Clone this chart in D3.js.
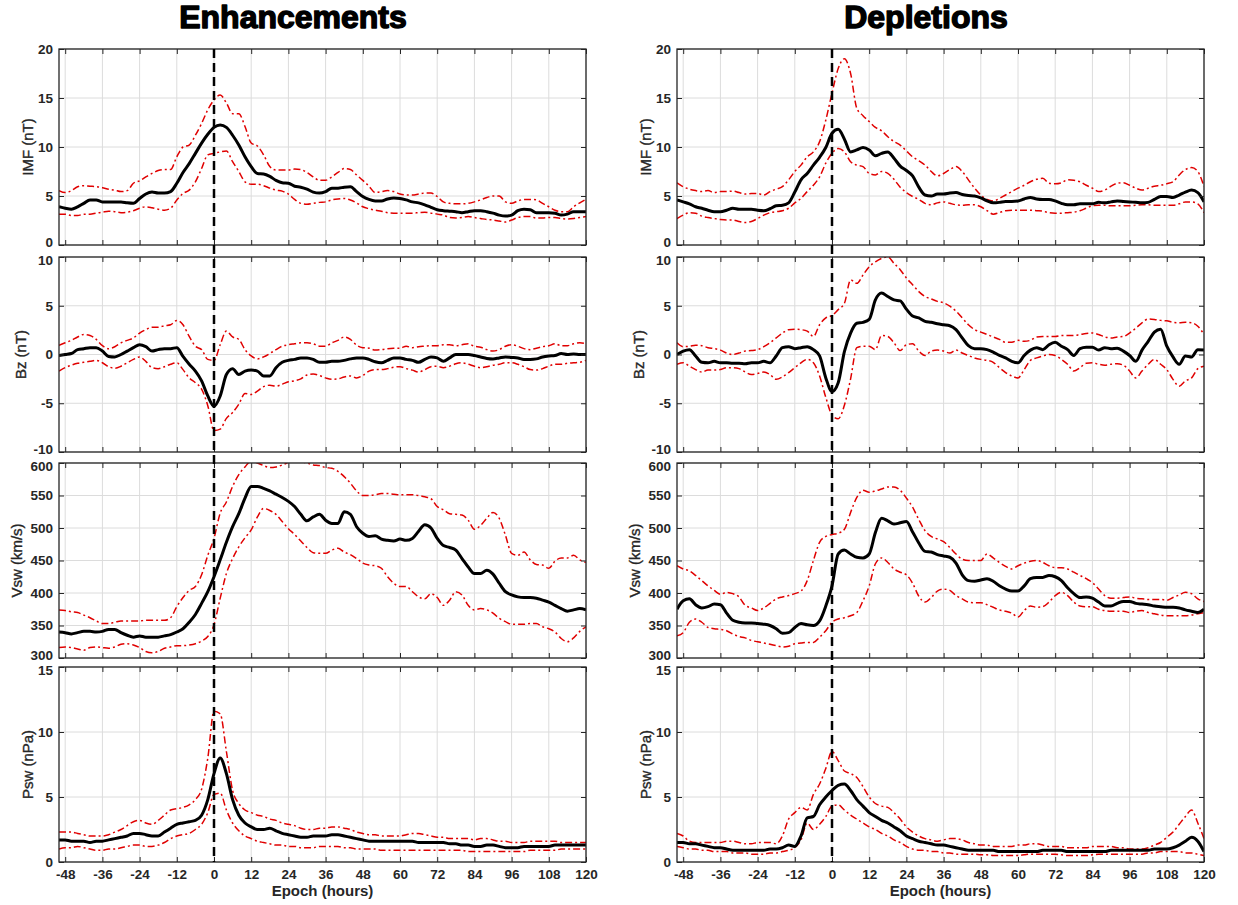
<!DOCTYPE html>
<html>
<head>
<meta charset="utf-8">
<script src="https://cdn.jsdelivr.net/npm/d3@7"></script>
<style>
  body { margin: 0; background: #fff; }
  text { font-family: "Liberation Sans", Arial, sans-serif; }
</style>
</head>
<body>
<svg id="chart" width="1238" height="905"></svg>
<script>
// Epoch hours, every 2 h from -50 to 120
const hours = [
  -50,-48,-46,-44,-42,-40,-38,-36,-34,-32,
  -30,-28,-26,-24,-22,-20,-18,-16,-14,-12,
  -10,-8,-6,-4,-2,0,2,4,6,8,
  10,12,14,16,18,20,22,24,26,28,
  30,32,34,36,38,40,42,44,46,48,
  50,52,54,56,58,60,62,64,66,68,
  70,72,74,76,78,80,82,84,86,88,
  90,92,94,96,98,100,102,104,106,108,
  110,112,114,116,118,120
];

const xTicks = [-48, -36, -24, -12, 0, 12, 24, 36, 48, 60, 72, 84, 96, 108, 120];
const imfTicks = [0, 5, 10, 15, 20];
const bzTicks = [-10, -5, 0, 5, 10];
const vswTicks = [300, 350, 400, 450, 500, 550, 600];
const pswTicks = [0, 5, 10, 15];

// ---- Enhancements ----
const enhImfMean = [
  3.9,3.75,3.65,3.9,4.25,4.6,4.6,4.4,4.4,4.4,
  4.4,4.3,4.25,4.75,5.2,5.4,5.3,5.3,5.45,6.3,
  7.4,8.3,9.35,10.4,11.3,12.0,12.25,12.0,11.2,10.2,
  9.0,8.0,7.3,7.25,7.0,6.6,6.35,6.3,6.0,5.9,
  5.7,5.4,5.3,5.45,5.8,5.8,5.9,5.95,5.45,4.95,
  4.65,4.5,4.5,4.7,4.8,4.75,4.6,4.4,4.3,4.1,
  3.85,3.6,3.5,3.45,3.4,3.3,3.4,3.5,3.5,3.4,
  3.25,3.05,2.95,3.05,3.5,3.65,3.6,3.3,3.3,3.3,
  3.25,3.05,3.15,3.4,3.4,3.4
];
const enhImfUpper = [
  5.55,5.35,5.55,5.95,6.05,6.0,5.95,5.85,5.7,5.6,
  5.45,5.55,6.3,6.55,6.95,7.3,7.6,7.7,7.7,9.0,
  10.0,10.2,11.2,12.4,13.8,14.8,15.3,14.5,13.4,13.4,
  12.1,10.4,10.1,9.2,8.0,7.65,7.65,7.65,7.75,7.7,
  7.4,6.95,6.6,6.6,6.95,7.4,7.8,7.7,7.15,6.6,
  6.0,5.35,5.45,5.55,5.45,5.2,5.1,5.1,5.2,5.3,
  5.3,4.95,4.4,4.25,4.2,4.2,4.25,4.4,4.6,4.85,
  5.0,5.0,4.4,4.25,4.5,4.65,4.65,4.6,4.25,3.9,
  3.55,3.4,3.4,3.9,4.3,4.65
];
const enhImfLower = [
  3.15,3.15,3.0,3.0,3.15,3.15,3.25,3.35,3.45,3.4,
  3.3,3.35,3.5,3.75,3.9,3.8,3.65,3.55,3.75,4.6,
  5.25,5.6,6.45,7.8,9.2,9.35,9.5,9.6,8.5,7.5,
  6.45,6.2,6.2,6.05,5.8,5.6,5.5,5.2,4.65,4.25,
  4.15,4.25,4.35,4.4,4.6,4.7,4.75,4.6,4.3,3.9,
  3.7,3.55,3.45,3.3,3.25,3.25,3.25,3.25,3.3,3.35,
  3.25,3.15,3.05,2.8,2.75,2.8,2.9,2.8,2.7,2.6,
  2.55,2.45,2.35,2.55,2.8,2.9,2.9,2.75,2.75,2.8,
  2.8,2.7,2.65,2.7,2.8,2.9
];
const enhBzMean = [
  -0.1,0,0.1,0.5,0.6,0.7,0.7,0.35,-0.2,-0.25,
  0,0.35,0.7,1.0,0.8,0.35,0.5,0.6,0.6,0.7,
  -0.2,-1.0,-1.7,-2.7,-4.25,-5.3,-4.25,-2.05,-1.45,-2.05,
  -1.7,-1.6,-1.7,-2.2,-2.2,-1.35,-0.8,-0.6,-0.5,-0.35,
  -0.35,-0.5,-0.8,-0.8,-0.7,-0.7,-0.6,-0.45,-0.35,-0.35,
  -0.5,-0.75,-0.85,-0.6,-0.35,-0.35,-0.5,-0.6,-0.8,-0.5,
  -0.25,-0.35,-0.7,-0.35,0,0,0,-0.1,-0.25,-0.4,
  -0.45,-0.35,-0.25,-0.3,-0.35,-0.5,-0.5,-0.45,-0.25,-0.15,
  -0.1,0.1,0,0.05,0,0
];
const enhBzUpper = [
  0.95,1.2,1.45,1.8,2.05,1.95,1.55,0.9,0.6,0.8,
  1.2,1.45,1.7,2.2,2.55,2.8,2.8,2.95,3.05,3.5,
  3.05,1.85,0.85,0.5,-0.5,-0.6,1.0,2.4,1.8,1.55,
  0.5,-0.15,-0.45,-0.25,0.1,0.5,0.85,1.0,1.1,1.2,
  1.2,1.1,0.85,0.85,1.2,1.45,1.8,1.55,0.95,0.7,
  0.65,0.45,0.5,0.6,0.65,0.65,0.85,0.7,0.8,0.85,
  0.9,0.9,1.0,1.0,0.9,1.0,1.1,0.85,0.75,0.5,
  0.35,0.5,0.85,1.0,0.85,0.6,0.5,0.65,0.8,0.9,
  1.1,0.9,0.9,1.1,1.2,1.1
];
const enhBzLower = [
  -1.7,-1.35,-1.1,-0.9,-0.8,-0.7,-0.6,-0.85,-1.25,-1.4,
  -1.2,-0.85,-0.5,-0.25,-0.7,-1.35,-1.45,-1.25,-1.0,-0.85,
  -1.55,-2.4,-2.9,-3.55,-5.25,-7.8,-7.65,-6.55,-5.95,-5.1,
  -4.0,-4.1,-3.75,-3.3,-3.15,-3.25,-3.05,-2.8,-2.7,-2.5,
  -2.1,-2.0,-2.15,-2.4,-2.55,-2.5,-2.3,-2.2,-2.4,-2.15,
  -1.7,-1.55,-1.55,-1.45,-1.3,-1.25,-1.45,-1.6,-1.8,-1.55,
  -1.25,-1.2,-1.35,-1.2,-0.95,-0.85,-1.0,-1.2,-1.35,-1.25,
  -1.1,-1.0,-0.85,-0.85,-1.0,-1.25,-1.55,-1.6,-1.45,-1.2,
  -1.0,-1.0,-0.9,-0.85,-0.8,-0.6
];
const enhVswMean = [
  340,339,337,339,341,341,340,341,344,344,
  339,335,332,334,332,332,332,334,336,340,
  345,355,367,384,402,425,451,478,502,522,
  546,564,564,561,557,552,547,541,533,521,
  511,517,521,512,507,507,525,521,502,492,
  487,488,483,481,480,483,481,484,495,505,
  500,484,473,470,466,453,440,430,430,435,
  429,415,402,397,394,393,393,392,389,386,
  381,376,372,374,376,374
];
const enhVswUpper = [
  374,373,371,370,366,362,357,353,353,355,
  357,357,357,357,358,358,358,358,362,379,
  393,404,410,428,458,484,523,540,564,582,
  594,603,600,596,593,594,597,601,605,602,
  600,597,596,593,592,587,579,569,557,550,
  550,551,553,553,552,551,551,551,550,548,
  545,533,528,522,521,520,512,498,504,515,
  524,515,489,461,458,463,451,444,443,438,
  449,454,454,458,451,447
];
const enhVswLower = [
  316,317,316,314,312,316,317,316,315,317,
  321,322,320,316,310,308,310,315,317,319,
  319,320,322,326,333,351,392,430,453,471,
  485,497,517,530,527,521,510,499,490,480,
  470,462,461,461,466,469,463,459,453,446,
  443,442,438,425,415,410,410,402,394,391,
  399,393,381,389,402,397,381,374,376,374,
  369,361,356,352,352,352,353,353,348,345,
  340,330,325,331,341,348
];
const enhPswMean = [
  1.7,1.7,1.6,1.6,1.6,1.5,1.6,1.6,1.7,1.8,
  1.9,2.0,2.2,2.2,2.1,2.0,2.0,2.3,2.6,2.9,
  3.0,3.1,3.2,3.6,4.8,6.8,8.0,6.8,4.8,3.6,
  3.0,2.7,2.5,2.5,2.6,2.4,2.2,2.1,2.0,1.9,
  1.9,2.0,2.0,2.0,2.1,2.1,2.0,1.9,1.8,1.7,
  1.6,1.6,1.6,1.6,1.6,1.6,1.6,1.6,1.5,1.5,
  1.5,1.5,1.5,1.4,1.4,1.3,1.3,1.2,1.2,1.3,
  1.3,1.2,1.1,1.1,1.1,1.2,1.2,1.2,1.2,1.2,
  1.3,1.3,1.3,1.3,1.3,1.3
];
const enhPswUpper = [
  2.3,2.3,2.3,2.2,2.1,2.0,2.0,2.0,2.1,2.3,
  2.5,2.8,3.1,3.2,3.0,2.9,3.2,3.6,4.0,4.1,
  4.2,4.4,4.8,5.6,8.0,11.6,11.4,8.5,5.5,4.5,
  4.0,3.8,3.6,3.5,3.3,3.2,3.0,2.9,2.8,2.6,
  2.5,2.5,2.6,2.6,2.7,2.7,2.6,2.5,2.3,2.2,
  2.1,2.1,2.0,2.0,2.0,2.0,2.1,2.2,2.2,2.1,
  2.0,1.9,1.9,1.8,1.8,1.8,1.8,1.7,1.8,1.8,
  1.7,1.6,1.6,1.5,1.5,1.5,1.6,1.6,1.6,1.6,
  1.6,1.5,1.5,1.5,1.5,1.5
];
const enhPswLower = [
  1.0,1.1,1.1,1.2,1.1,1.0,0.9,0.9,1.0,1.0,
  1.1,1.2,1.3,1.3,1.2,1.2,1.3,1.5,1.8,2.0,
  2.1,2.2,2.5,2.9,3.8,5.2,5.3,4.0,3.0,2.4,
  2.0,1.8,1.6,1.5,1.4,1.3,1.3,1.2,1.2,1.1,
  1.1,1.1,1.2,1.2,1.2,1.2,1.1,1.1,1.0,1.0,
  1.0,1.0,0.9,0.9,0.9,0.9,0.9,0.9,0.9,0.9,
  0.9,0.9,0.9,0.9,0.9,0.9,0.8,0.8,0.8,0.8,
  0.8,0.8,0.8,0.8,0.8,0.8,0.9,0.9,0.9,0.9,
  0.9,1.0,1.0,1.0,1.0,1.0
];

// ---- Depletions ----
const depImfMean = [
  4.6,4.4,4.2,3.9,3.75,3.55,3.4,3.4,3.55,3.75,
  3.65,3.65,3.65,3.55,3.5,3.7,4.0,4.05,4.3,5.4,
  6.65,7.3,8.15,8.95,9.95,11.4,11.8,10.8,9.5,9.7,
  9.95,9.7,9.1,9.35,9.5,8.85,8.05,7.6,7.05,5.9,
  5.1,5.0,5.2,5.2,5.3,5.35,5.15,5.05,5.0,4.8,
  4.5,4.3,4.35,4.45,4.45,4.5,4.7,4.85,4.7,4.65,
  4.65,4.5,4.25,4.1,4.1,4.2,4.2,4.2,4.35,4.3,
  4.4,4.5,4.45,4.4,4.35,4.3,4.35,4.65,4.95,4.95,
  4.85,5.1,5.4,5.6,5.35,4.4
];
const depImfUpper = [
  6.35,5.95,5.7,5.55,5.45,5.55,5.35,5.45,5.45,5.5,
  5.35,5.2,5.25,5.25,5.1,5.45,5.7,5.95,6.65,7.5,
  8.15,9.0,9.5,10.55,12.75,15.5,18.0,19.0,17.5,13.95,
  13.2,12.6,12.0,11.65,11.05,10.55,10.2,9.6,9.0,8.6,
  8.15,7.5,7.05,7.3,7.7,8.0,7.5,6.65,5.8,5.1,
  4.65,4.5,4.75,5.1,5.45,5.8,6.1,6.45,6.7,6.8,
  6.3,6.25,6.35,6.65,6.6,6.45,6.1,5.8,5.45,5.6,
  6.0,6.3,6.35,6.1,5.8,5.6,5.8,6.0,6.1,6.25,
  6.45,7.15,7.7,7.9,7.5,5.95
];
const depImfLower = [
  2.7,3.05,3.3,3.25,2.95,2.8,2.7,2.6,2.55,2.55,
  2.4,2.3,2.4,2.7,3.05,3.3,3.4,3.5,3.75,4.3,
  4.75,5.45,6.1,6.95,8.35,9.35,9.85,9.5,8.5,8.15,
  8.0,7.3,7.15,7.5,7.3,6.7,5.9,5.35,4.95,4.65,
  4.25,4.1,4.3,4.4,4.25,4.1,4.05,4.1,4.1,3.9,
  3.5,3.15,3.3,3.5,3.55,3.55,3.55,3.55,3.5,3.45,
  3.3,3.25,3.25,3.3,3.35,3.5,3.75,4.0,4.05,4.05,
  4.0,4.0,4.0,4.0,4.05,4.1,4.1,4.05,4.05,4.05,
  4.05,4.2,4.4,4.4,4.2,3.3
];
const depBzMean = [
  0,0.35,0.5,-0.15,-0.8,-0.85,-0.7,-0.85,-0.85,-0.9,
  -0.9,-0.95,-0.85,-0.85,-0.7,-0.85,-0.15,0.7,0.8,0.6,
  0.7,0.8,0.5,-0.15,-2.4,-3.8,-2.9,0.3,2.2,3.2,
  3.3,3.6,5.6,6.3,5.95,5.6,5.5,4.65,3.95,3.75,
  3.4,3.3,3.15,3.05,2.95,2.55,1.7,0.9,0.6,0.6,
  0.5,0.25,-0.1,-0.35,-0.7,-0.85,-0.1,0.45,0.7,0.5,
  1.0,1.25,0.85,0.5,-0.1,0.6,0.75,0.75,0.45,0.7,
  0.6,0.65,0.35,-0.1,-0.7,0.45,1.35,2.3,2.6,0.85,
  -0.25,-1.0,-0.15,-0.25,0.5,0.45
];
const depBzUpper = [
  1.2,0.8,0.85,0.95,0.9,0.7,0.6,0.45,0.15,0,
  0.15,0.35,0.4,0.5,0.8,1.2,1.7,2.2,2.55,2.6,
  2.55,2.4,1.85,3.05,3.75,4.0,4.6,5.25,7.65,7.3,
  8.15,9.0,9.5,9.85,10.0,9.35,8.7,7.85,7.15,6.45,
  5.95,5.7,5.45,5.3,4.95,4.45,3.75,3.05,2.55,2.3,
  2.05,1.8,1.55,1.25,1.25,1.45,1.35,1.45,1.8,1.85,
  1.85,1.85,1.95,1.95,1.95,2.05,2.15,2.2,2.05,1.8,
  1.7,1.8,1.85,2.2,2.7,3.25,3.65,3.6,3.5,3.45,
  3.3,3.25,3.3,3.25,2.9,2.05
];
const depBzLower = [
  -1.0,-0.85,-1.2,-1.55,-1.8,-1.6,-1.6,-1.55,-1.35,-1.35,
  -1.45,-1.8,-2.05,-1.95,-1.8,-2.05,-2.55,-2.3,-1.85,-1.35,
  -0.85,-0.5,-0.85,-2.2,-4.4,-6.2,-6.6,-5.2,-2.5,0.7,
  0.85,0.85,0.5,1.95,1.85,1.2,0.4,1.0,1.1,0.35,
  -0.1,0.35,0.45,0.35,0.15,0.45,0.15,-0.1,-0.35,-0.5,
  -0.6,-0.8,-1.35,-1.85,-2.2,-2.4,-1.55,-0.6,-0.35,-0.15,
  0,-0.1,-0.5,-1.0,-1.7,-1.35,-0.9,-0.85,-1.0,-1.1,
  -1.0,-0.95,-1.1,-1.7,-2.4,-1.7,-1.0,-0.5,-1.0,-1.55,
  -2.55,-3.25,-2.7,-2.4,-1.45,-1.2
];
const depVswMean = [
  375,388,391,382,377,379,383,382,369,358,
  355,354,354,353,352,350,345,338,339,347,
  353,351,350,357,380,411,460,466,460,455,
  454,460,493,515,511,506,508,510,494,477,
  464,463,459,457,455,446,428,419,418,420,
  422,418,411,406,403,403,411,422,424,424,
  427,425,419,408,399,393,394,392,386,380,
  380,384,387,387,384,383,382,380,379,378,
  378,377,374,372,370,375
];
const depVswUpper = [
  442,437,434,427,419,411,404,398,401,399,
  394,381,377,373,377,384,391,394,396,399,
  403,419,450,478,487,490,492,498,524,547,
  558,555,557,560,563,563,558,546,532,513,
  496,487,483,479,470,460,452,450,450,450,
  460,454,447,441,437,442,446,449,450,447,
  442,439,439,437,432,427,422,416,406,396,
  392,392,393,394,392,391,390,390,390,389,
  393,397,401,399,391,387
];
const depVswLower = [
  334,339,355,360,355,347,345,344,342,337,
  333,331,327,325,323,321,319,317,318,322,
  323,324,324,332,342,355,360,362,365,370,
  388,411,445,454,447,437,432,428,415,395,
  386,393,403,406,404,396,391,386,385,385,
  382,378,374,372,369,363,373,380,378,379,
  386,396,401,396,386,380,379,379,375,373,
  372,372,372,370,372,373,370,368,366,365,
  365,365,365,366,368,370
];
const depPswMean = [
  1.5,1.5,1.4,1.4,1.3,1.2,1.1,1.1,1.0,0.9,
  0.9,0.9,0.9,0.9,0.9,1.0,1.0,1.1,1.3,1.2,
  2.0,3.4,3.5,4.4,5.0,5.5,5.9,6.0,5.5,4.8,
  4.3,3.8,3.5,3.2,3.0,2.7,2.4,2.0,1.8,1.6,
  1.5,1.4,1.3,1.3,1.2,1.1,1.0,0.9,0.9,0.9,
  0.9,0.9,0.8,0.8,0.8,0.8,0.8,0.8,0.8,0.9,
  0.9,0.9,0.9,0.8,0.8,0.8,0.8,0.8,0.8,0.8,
  0.9,0.9,0.9,0.9,0.9,0.9,0.9,1.0,1.0,1.0,
  1.1,1.3,1.6,1.9,1.6,0.8
];
const depPswUpper = [
  2.2,2.0,1.6,1.5,1.5,1.5,1.5,1.5,1.6,1.6,
  1.5,1.4,1.4,1.5,1.5,1.5,1.4,2.0,3.3,3.8,
  4.2,4.0,5.2,6.0,7.2,8.5,7.8,7.0,6.8,6.5,
  5.8,5.0,4.5,4.3,4.2,3.8,3.3,2.7,2.3,2.0,
  1.8,1.7,1.6,1.7,1.8,1.8,1.7,1.5,1.4,1.3,
  1.3,1.2,1.2,1.2,1.2,1.3,1.3,1.4,1.4,1.3,
  1.2,1.2,1.2,1.1,1.1,1.1,1.1,1.2,1.2,1.2,
  1.2,1.1,1.1,1.0,1.0,1.0,1.1,1.3,1.5,1.9,
  2.3,2.9,3.5,4.0,3.0,1.8
];
const depPswLower = [
  1.2,1.1,1.0,1.0,0.9,0.9,0.8,0.8,0.8,0.7,
  0.7,0.7,0.6,0.6,0.6,0.7,0.7,0.8,0.9,1.1,
  1.7,3.0,2.5,2.9,3.5,4.3,4.4,4.0,3.6,3.3,
  3.0,2.7,2.5,2.2,2.0,1.7,1.5,1.2,1.0,0.9,
  0.9,0.8,0.8,0.7,0.7,0.6,0.6,0.6,0.6,0.55,
  0.55,0.5,0.5,0.5,0.5,0.5,0.55,0.6,0.6,0.6,
  0.6,0.6,0.55,0.5,0.5,0.5,0.5,0.55,0.6,0.6,
  0.6,0.6,0.6,0.6,0.6,0.6,0.7,0.7,0.8,0.8,
  0.8,0.8,0.7,0.7,0.6,0.5
];

const rows = [
  { key: 'imf', label: 'IMF (nT)', domain: [0, 20], ticks: imfTicks, top: 49, bottom: 245, labelOffset: 32 },
  { key: 'bz', label: 'Bz (nT)', domain: [-10, 10], ticks: bzTicks, top: 257, bottom: 452, labelOffset: 39 },
  { key: 'vsw', label: 'Vsw (km/s)', domain: [300, 600], ticks: vswTicks, top: 463, bottom: 658, labelOffset: 43 },
  { key: 'psw', label: 'Psw (nPa)', domain: [0, 15], ticks: pswTicks, top: 667, bottom: 862, labelOffset: 32 }
];

const columns = [
  {
    title: 'Enhancements', titleX: 293, left: 59, right: 586,
    series: {
      imf: [enhImfUpper, enhImfLower, enhImfMean],
      bz: [enhBzUpper, enhBzLower, enhBzMean],
      vsw: [enhVswUpper, enhVswLower, enhVswMean],
      psw: [enhPswUpper, enhPswLower, enhPswMean]
    }
  },
  {
    title: 'Depletions', titleX: 926, left: 677, right: 1204,
    series: {
      imf: [depImfUpper, depImfLower, depImfMean],
      bz: [depBzUpper, depBzLower, depBzMean],
      vsw: [depVswUpper, depVswLower, depVswMean],
      psw: [depPswUpper, depPswLower, depPswMean]
    }
  }
];

const svg = d3.select('#chart');
const defs = svg.append('defs');
const axisColor = '#262626';

function styleAxis(g) {
  g.select('.domain').remove();
  g.selectAll('.tick line').attr('stroke', axisColor).attr('stroke-width', 1);
  g.selectAll('.tick text')
    .attr('fill', axisColor)
    .attr('font-size', 13.5)
    .attr('font-weight', 'bold')
    .attr('font-family', '"Liberation Sans", Arial, sans-serif');
}

columns.forEach((col, ci) => {
  const x = d3.scaleLinear().domain([-50, 120]).range([col.left, col.right]);

  rows.forEach((row, ri) => {
    const y = d3.scaleLinear().domain(row.domain).range([row.bottom, row.top]);
    const g = svg.append('g');
    const h = row.bottom - row.top;

    // grid
    g.append('g').selectAll('line').data(xTicks).join('line')
      .attr('x1', d => x(d)).attr('x2', d => x(d))
      .attr('y1', row.top).attr('y2', row.bottom)
      .attr('stroke', '#dcdcdc').attr('stroke-width', 1);
    g.append('g').selectAll('line').data(row.ticks).join('line')
      .attr('x1', col.left).attr('x2', col.right)
      .attr('y1', d => y(d)).attr('y2', d => y(d))
      .attr('stroke', '#dcdcdc').attr('stroke-width', 1);

    // data lines
    const clipId = `clip-${ci}-${ri}`;
    defs.append('clipPath').attr('id', clipId).append('rect')
      .attr('x', col.left).attr('y', row.top)
      .attr('width', col.right - col.left).attr('height', h);

    const line = d3.line()
      .x((d, i) => x(hours[i]))
      .y(d => y(d))
      .curve(d3.curveMonotoneX);

    const [upper, lower, mean] = col.series[row.key];
    const plot = g.append('g').attr('clip-path', `url(#${clipId})`);
    [upper, lower].forEach(s => {
      plot.append('path').datum(s)
        .attr('d', line)
        .attr('fill', 'none')
        .attr('stroke', '#e00000')
        .attr('stroke-width', 1.5)
        .attr('stroke-dasharray', '7,3,2,3');
    });
    plot.append('path').datum(mean)
      .attr('d', line)
      .attr('fill', 'none')
      .attr('stroke', '#000')
      .attr('stroke-width', 3)
      .attr('stroke-linejoin', 'round');

    // axes with inward ticks
    g.append('g').attr('transform', `translate(0,${row.bottom})`)
      .call(d3.axisBottom(x).tickValues(xTicks).tickSize(-5).tickPadding(7)
        .tickFormat(ri === rows.length - 1 ? d => String(d) : ''))
      .call(styleAxis);
    g.append('g').attr('transform', `translate(0,${row.top})`)
      .call(d3.axisTop(x).tickValues(xTicks).tickSize(-5).tickFormat(''))
      .call(styleAxis);
    const yAxis = g.append('g').attr('transform', `translate(${col.left},0)`)
      .call(d3.axisLeft(y).tickValues(row.ticks).tickSize(-5).tickPadding(6).tickFormat(d => String(d)))
      .call(styleAxis);
    // keep the end labels of stacked panels from running into each other
    const [lo, hi] = row.domain;
    yAxis.selectAll('.tick text')
      .attr('dy', d => {
        if (d === hi && ri > 0) return '0.55em';
        if (d === lo && ri < rows.length - 1) return '0.1em';
        return '0.32em';
      });
    g.append('g').attr('transform', `translate(${col.right},0)`)
      .call(d3.axisRight(y).tickValues(row.ticks).tickSize(-5).tickFormat(''))
      .call(styleAxis);

    g.append('rect')
      .attr('x', col.left).attr('y', row.top)
      .attr('width', col.right - col.left).attr('height', h)
      .attr('fill', 'none').attr('stroke', axisColor).attr('stroke-width', 1.3);

    // y label
    g.append('text')
      .attr('transform', `translate(${col.left - row.labelOffset},${(row.top + row.bottom) / 2}) rotate(-90)`)
      .attr('text-anchor', 'middle')
      .attr('dominant-baseline', 'central')
      .attr('font-size', 15)
      .attr('fill', axisColor)
      .attr('stroke', axisColor).attr('stroke-width', 0.35)
      .text(row.label);
  });

  // epoch zero marker across all panels
  svg.append('line')
    .attr('x1', x(0)).attr('x2', x(0))
    .attr('y1', rows[0].top).attr('y2', rows[rows.length - 1].bottom)
    .attr('stroke', '#000').attr('stroke-width', 2.5)
    .attr('stroke-dasharray', '9,5');

  svg.append('text')
    .attr('x', col.titleX).attr('y', 28)
    .attr('text-anchor', 'middle')
    .attr('font-size', 32).attr('font-weight', 'bold')
    .attr('fill', '#000')
    .attr('stroke', '#000').attr('stroke-width', 1.4)
    .attr('stroke-linejoin', 'round')
    .text(col.title);

  svg.append('text')
    .attr('x', (col.left + col.right) / 2).attr('y', 896)
    .attr('text-anchor', 'middle')
    .attr('font-size', 15).attr('font-weight', 'bold')
    .attr('fill', axisColor)
    .text('Epoch (hours)');
});
</script>
</body>
</html>
